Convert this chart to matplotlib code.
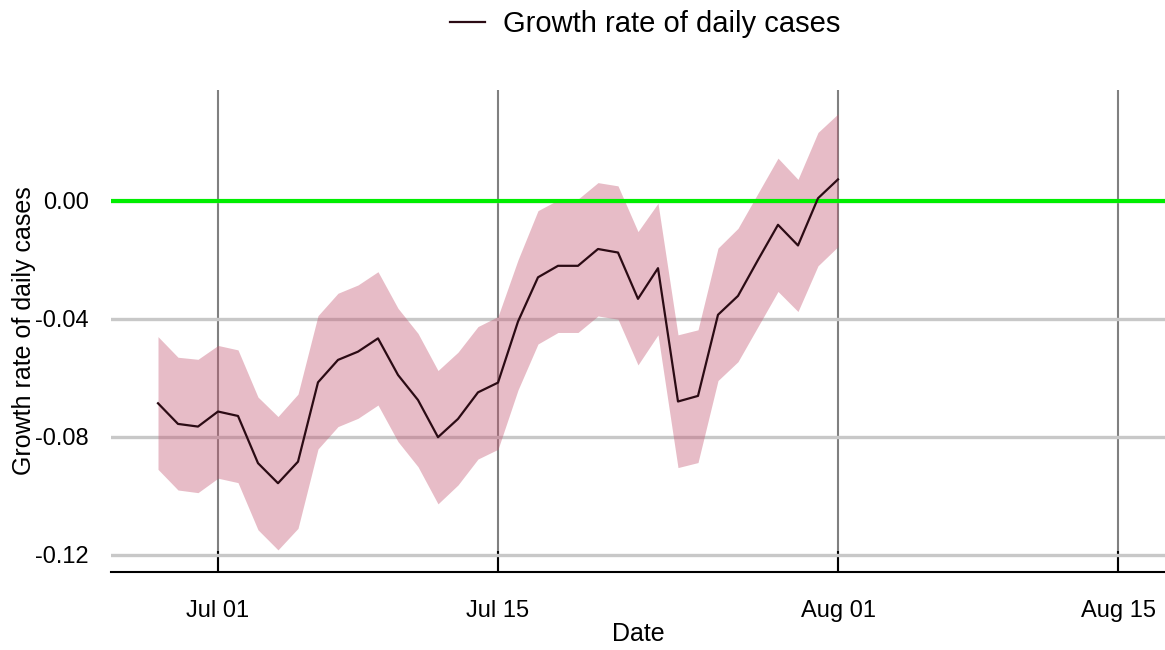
import pandas as pd
import matplotlib
matplotlib.use("Agg")
import matplotlib.pyplot as plt
import matplotlib.dates as mdates
from matplotlib.ticker import FormatStrFormatter

plt.rcParams['font.family'] = ['Liberation Sans', 'DejaVu Sans']
plt.rcParams['axes.unicode_minus'] = False

# daily growth rate estimates, Jun 28 - Aug 01
dates = pd.date_range('2020-06-28', '2020-08-01', freq='D')
growth = [-0.0686, -0.0756, -0.0765, -0.0714, -0.0729, -0.0889, -0.0957, -0.0884,
          -0.0615, -0.0539, -0.0511, -0.0466, -0.0590, -0.0675, -0.0801, -0.0739,
          -0.0649, -0.0616, -0.0409, -0.0259, -0.0220, -0.0220, -0.0163, -0.0175,
          -0.0332, -0.0228, -0.0680, -0.0661, -0.0386, -0.0322, -0.0200, -0.0081,
          -0.0151, 0.0009, 0.0073]
upper = [-0.0460, -0.0530, -0.0537, -0.0490, -0.0505, -0.0665, -0.0731, -0.0655,
         -0.0389, -0.0313, -0.0285, -0.0240, -0.0364, -0.0449, -0.0575, -0.0513,
         -0.0426, -0.0392, -0.0200, -0.0033, 0.0003, 0.0006, 0.0062, 0.0051,
         -0.0104, -0.0008, -0.0454, -0.0437, -0.0160, -0.0093, 0.0026, 0.0145,
         0.0073, 0.0232, 0.0295]
lower = [-0.0910, -0.0980, -0.0989, -0.0940, -0.0955, -0.1115, -0.1183, -0.1110,
         -0.0841, -0.0765, -0.0737, -0.0692, -0.0816, -0.0901, -0.1027, -0.0963,
         -0.0875, -0.0842, -0.0641, -0.0485, -0.0446, -0.0446, -0.0390, -0.0401,
         -0.0556, -0.0454, -0.0904, -0.0887, -0.0609, -0.0545, -0.0426, -0.0307,
         -0.0375, -0.0220, -0.0155]

x_ticks = pd.to_datetime(['2020-07-01', '2020-07-15', '2020-08-01', '2020-08-15'])
y_ticks = [-0.12, -0.08, -0.04, 0.00]

fig = plt.figure(figsize=(11.65, 6.5), dpi=100)
ax = fig.add_axes([111/1165, 1-572/650, 1-111/1165, (572-90)/650])

ax.fill_between(dates, lower, upper, color=(0.77, 0.35, 0.45), alpha=0.4,
                linewidth=0, zorder=2)
ax.axhline(0, color='#00ee00', lw=3, zorder=3)
ax.plot(dates, growth, color='#2b0b14', lw=1.6, zorder=4,
        label='Growth rate of daily cases')

ax.set_xlim(pd.Timestamp('2020-06-25') + pd.Timedelta(hours=15.6),
            pd.Timestamp('2020-08-17') + pd.Timedelta(hours=8.4))
ax.set_ylim(-0.1258, 0.0376)

ax.set_xticks(x_ticks)
ax.xaxis.set_major_formatter(mdates.DateFormatter('%b %d'))
ax.set_yticks(y_ticks)
ax.yaxis.set_major_formatter(FormatStrFormatter('%.2f'))

ax.grid(axis='x', color='#808080', lw=1.5, zorder=1)
ax.grid(axis='y', color='#c8c8c8', lw=2.4, zorder=1)
ax.set_axisbelow(True)

for side in ['top', 'right', 'left']:
    ax.spines[side].set_visible(False)
ax.spines['bottom'].set_linewidth(1.5)

ax.tick_params(axis='x', direction='in', length=15, width=1.5, color='black',
               labelsize=17, pad=20)
ax.tick_params(axis='y', length=0, labelsize=17, pad=16)

ax.set_xlabel('Date', fontsize=18, labelpad=0)
ax.set_ylabel('Growth rate of daily cases', fontsize=18)
ax.yaxis.set_label_coords(-0.071, 0.5)

fig.legend(loc='center', bbox_to_anchor=(645/1165, 1-24/650), frameon=False,
           fontsize=21, handlelength=1.2, handletextpad=0.6)

fig.savefig('out.png', dpi=100)
